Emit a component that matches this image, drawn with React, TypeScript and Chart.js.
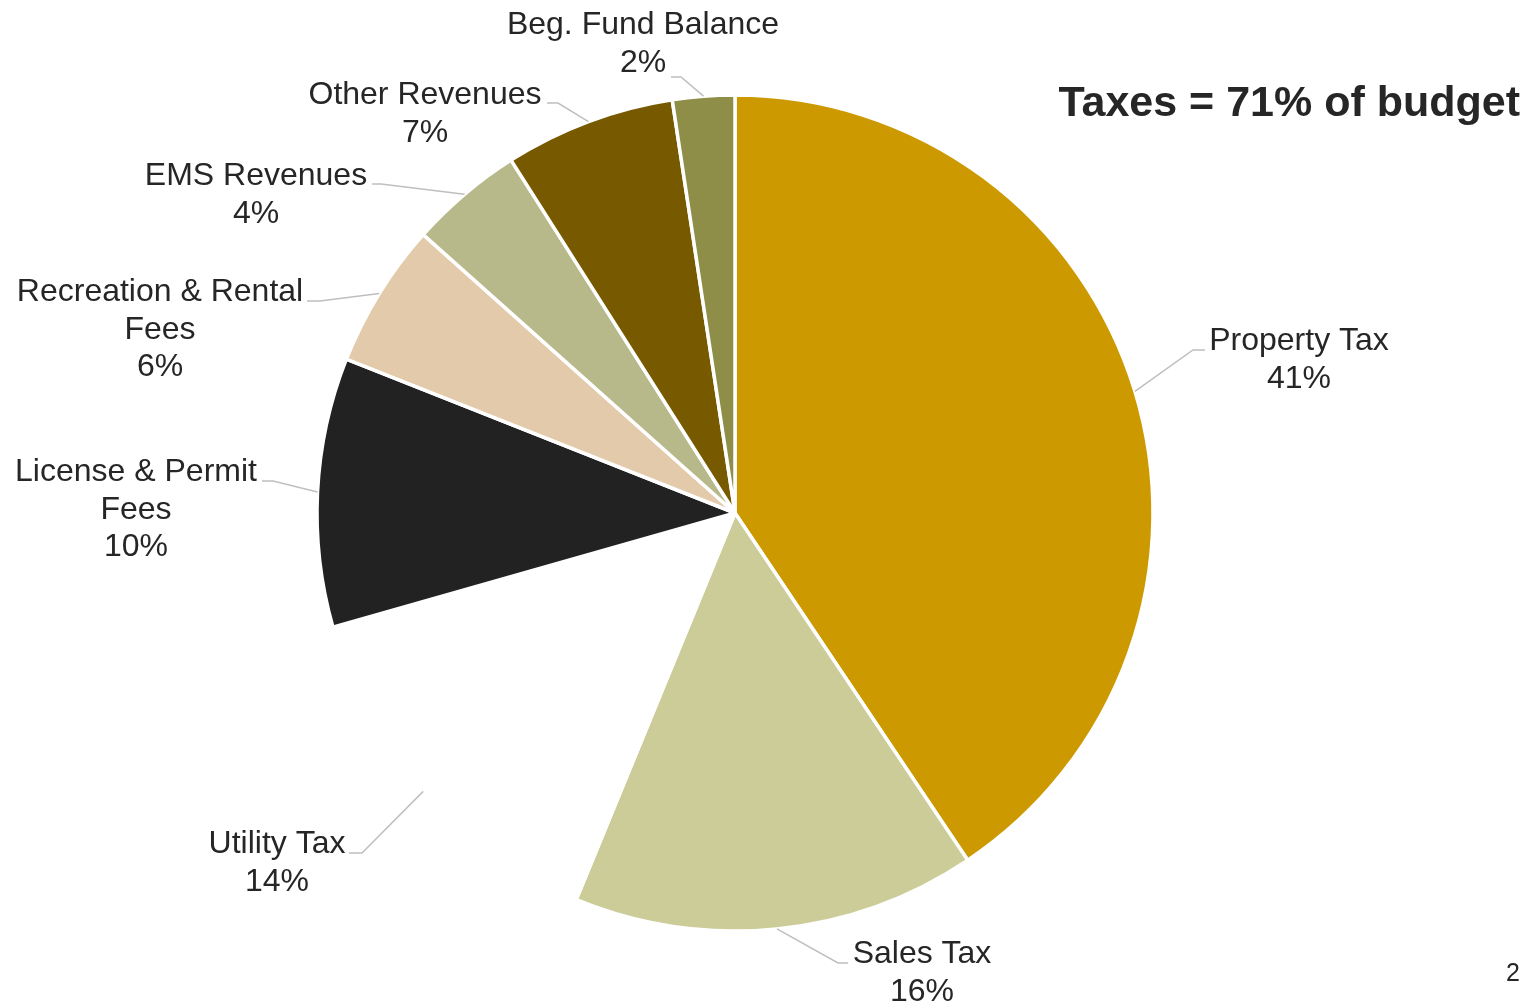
import React, { useEffect, useRef } from "react";
import { Chart, registerables } from "chart.js";

Chart.register(...registerables);

// ---- data ----
const categories: string[] = [
  "Property Tax",
  "Sales Tax",
  "Utility Tax",
  "License & Permit\nFees",
  "Recreation & Rental\nFees",
  "EMS Revenues",
  "Other Revenues",
  "Beg. Fund Balance",
];
const shares: number[] = [40.6, 15.6, 14.4, 10.4, 5.6, 4.4, 6.6, 2.4];
const titleText = "Taxes = 71% of budget";
const pageNumber = "2";

// ---- styles / layout ----
const sliceColors = [
  "#CC9900",
  "#CCCC99",
  "#FFFFFF",
  "#222222",
  "#E2CAAA",
  "#B8B98A",
  "#775A00",
  "#8E8E48",
];
// [centerX, firstBaseline, attachX, attachY, elbowX]
const labelLayout: number[][] = [
  [1299, 350, 1205, 350, 1193],
  [922, 963, 848, 963, 838],
  [277, 853, 349, 853, 362],
  [136, 481, 262, 481, 273],
  [160, 301, 307, 301, 320],
  [256, 185, 372, 184, 381],
  [425, 104, 547, 103, 558],
  [643, 34, 671, 77, 681],
];
const FONT = '"Liberation Sans", Arial, sans-serif';
const TEXT_COLOR = "#262626";
const LINE_H = 37.5;

const labelPlugin = {
  id: "pieLabels",
  afterDraw(chart: any) {
    const ctx = chart.ctx;
    const meta = chart.getDatasetMeta(0);
    const data = chart.data.datasets[0].data as number[];
    const total = data.reduce((a, b) => a + b, 0);
    ctx.save();
    meta.data.forEach((arc: any, i: number) => {
      const { x, y, startAngle, endAngle, outerRadius } = arc.getProps(
        ["x", "y", "startAngle", "endAngle", "outerRadius"],
        true
      );
      const mid = (startAngle + endAngle) / 2;
      const ex = x + outerRadius * Math.cos(mid);
      const ey = y + outerRadius * Math.sin(mid);
      const [cx, base, ax, ay, elx] = labelLayout[i];
      ctx.strokeStyle = "#BFBFBF";
      ctx.lineWidth = 1.5;
      ctx.beginPath();
      ctx.moveTo(ex, ey);
      ctx.lineTo(elx, ay);
      ctx.lineTo(ax, ay);
      ctx.stroke();

      const pct = Math.round((data[i] / total) * 100) + "%";
      const lines = String(chart.data.labels[i]).split("\n").concat([pct]);
      ctx.fillStyle = TEXT_COLOR;
      ctx.font = `32px ${FONT}`;
      ctx.textAlign = "center";
      ctx.textBaseline = "alphabetic";
      lines.forEach((ln: string, k: number) => {
        ctx.fillText(ln, cx, base + k * LINE_H);
      });
    });

    // title
    ctx.fillStyle = TEXT_COLOR;
    ctx.font = `bold 43px ${FONT}`;
    ctx.textAlign = "right";
    ctx.textBaseline = "alphabetic";
    ctx.fillText(titleText, 1520, 116);

    // page number
    ctx.font = `25px ${FONT}`;
    ctx.textAlign = "center";
    ctx.fillText(pageNumber, 1513, 981);
    ctx.restore();
  },
};

export default function App() {
  const ref = useRef<HTMLCanvasElement | null>(null);
  useEffect(() => {
    if (!ref.current) return;
    const chart = new Chart(ref.current, {
      type: "pie",
      data: {
        labels: categories,
        datasets: [
          {
            data: shares,
            backgroundColor: sliceColors,
            borderColor: "#FFFFFF",
            borderWidth: 3.5,
            hoverOffset: 0,
          },
        ],
      },
      options: {
        responsive: false,
        animation: false,
        radius: 418,
        layout: { padding: { left: 318, right: 385, top: 96, bottom: 78 } },
        plugins: {
          legend: { display: false },
          tooltip: { enabled: false },
        },
      } as any,
      plugins: [labelPlugin],
    });
    return () => chart.destroy();
  }, []);
  return (
    <div
      style={{
        position: "fixed",
        left: 0,
        top: 0,
        width: 1537,
        height: 1008,
        background: "#FFFFFF",
      }}
    >
      <canvas ref={ref} width={1537} height={1008} style={{ display: "block" }} />
    </div>
  );
}
